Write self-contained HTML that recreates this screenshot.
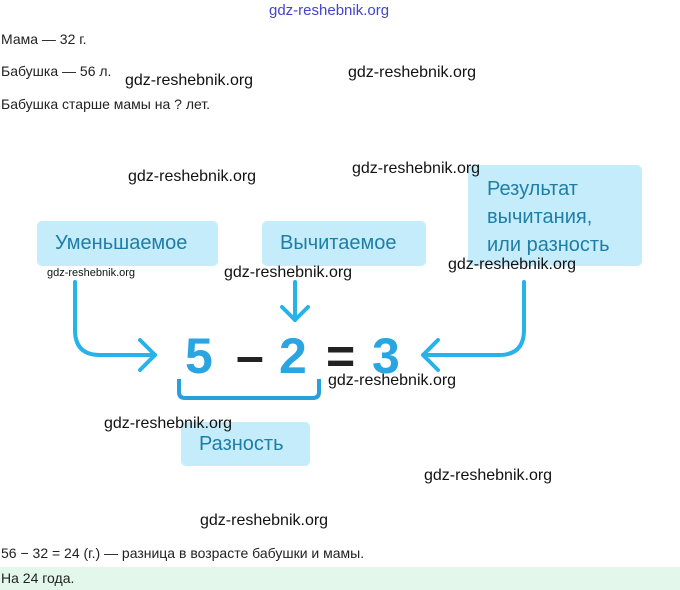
<!DOCTYPE html>
<html><head><meta charset="utf-8"><style>
body{margin:0;width:680px;height:590px;background:#fff;position:relative;overflow:hidden;font-family:"Liberation Sans","DejaVu Sans",sans-serif;}
.t{position:absolute;left:1px;font-size:14px;color:#222;white-space:nowrap}
.w{position:absolute;font-size:16px;color:#111;white-space:nowrap}
.b{position:absolute;background:#c4ecfb;border-radius:5px;color:#1f7ea6;font-size:20px;box-sizing:border-box}
.n{position:absolute;font-size:50px;font-weight:bold;color:#2aa5e2;top:328px;line-height:56px}
</style></head><body>
<div style="position:absolute;left:269px;top:2px;font-size:15px;color:#4444cc">gdz-reshebnik.org</div>
<div class="t" style="top:31px">Мама — 32 г.</div>
<div class="t" style="top:63px">Бабушка — 56 л.</div>
<div class="t" style="top:96px">Бабушка старше мамы на ? лет.</div>
<div class="b" style="left:37px;top:221px;width:181px;height:45px;line-height:45px;padding-left:18px">Уменьшаемое</div>
<div class="b" style="left:262px;top:221px;width:164px;height:45px;line-height:45px;padding-left:18px">Вычитаемое</div>
<div class="b" style="left:468px;top:165px;width:174px;height:101px;padding:10px 0 0 19px;line-height:28px">Результат<br>вычитания,<br>или разность</div>
<div class="b" style="left:181px;top:422px;width:129px;height:44px;line-height:44px;padding-left:18px">Разность</div>
<svg style="position:absolute;left:0;top:0" width="680" height="590">
<g fill="none" stroke="#27b2ea" stroke-width="4" stroke-linecap="round" stroke-linejoin="round">
<path d="M75 282 V330 Q75 355 100 355 H155"/><path d="M140 340 L155 355 L140 370"/>
<path d="M295 282 V320"/><path d="M282 307 L295 320 L308 307"/>
<path d="M524 282 V330 Q524 355 499 355 H423"/><path d="M438 340 L423 355 L438 370"/>
</g>
<path d="M179 379 V392 Q179 398 185 398 H313 Q319 398 319 392 V379" fill="none" stroke="#2a9fd8" stroke-width="4"/>
</svg>
<div class="n" style="left:185px">5</div>
<div class="n" style="left:236px;color:#222">–</div>
<div class="n" style="left:279px">2</div>
<div class="n" style="left:326px;color:#222">=</div>
<div class="n" style="left:372px">3</div>
<div class="w" style="left:125px;top:72px">gdz-reshebnik.org</div>
<div class="w" style="left:348px;top:64px">gdz-reshebnik.org</div>
<div class="w" style="left:128px;top:168px">gdz-reshebnik.org</div>
<div class="w" style="left:352px;top:160px">gdz-reshebnik.org</div>
<div class="w" style="left:47px;top:267px;font-size:11px">gdz-reshebnik.org</div>
<div class="w" style="left:224px;top:264px">gdz-reshebnik.org</div>
<div class="w" style="left:448px;top:256px">gdz-reshebnik.org</div>
<div class="w" style="left:328px;top:372px">gdz-reshebnik.org</div>
<div class="w" style="left:104px;top:415px">gdz-reshebnik.org</div>
<div class="w" style="left:424px;top:467px">gdz-reshebnik.org</div>
<div class="w" style="left:200px;top:512px">gdz-reshebnik.org</div>
<div class="t" style="top:545px">56 − 32 = 24 (г.) — разница в возрасте бабушки и мамы.</div>
<div style="position:absolute;left:0;top:567px;width:680px;height:23px;background:#e3f8ea"></div>
<div class="t" style="top:570px">На 24 года.</div>
</body></html>
